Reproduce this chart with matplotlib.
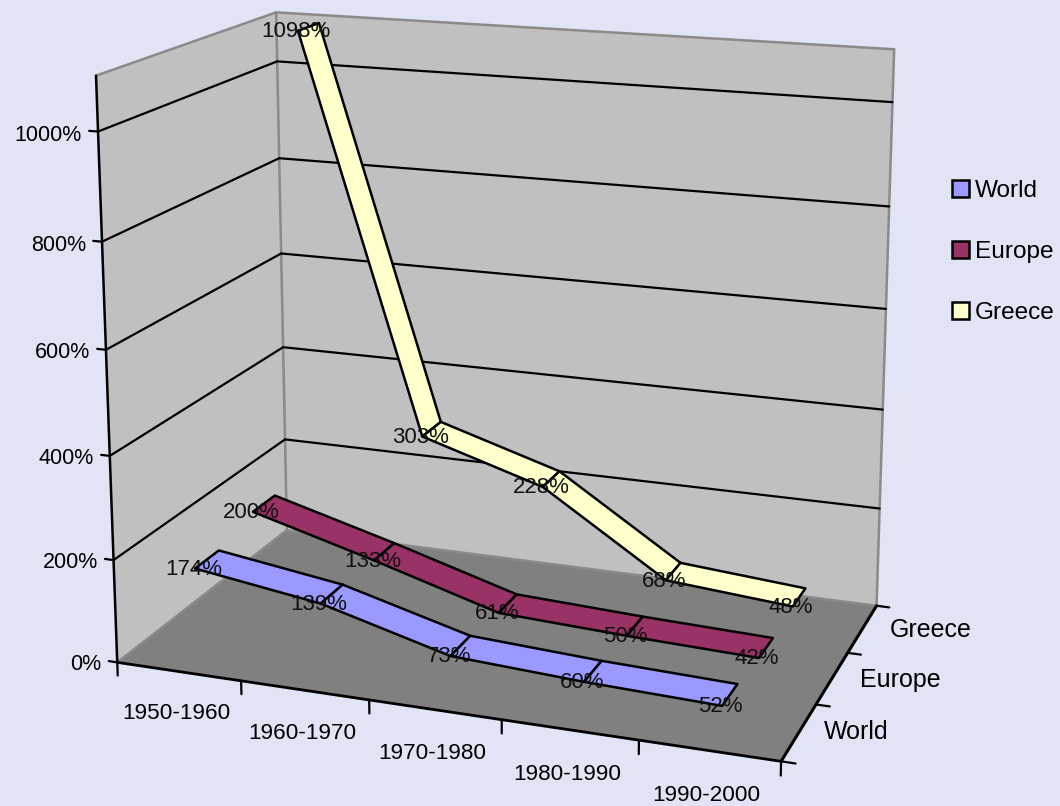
import numpy as np
import matplotlib
matplotlib.use('Agg')
import matplotlib.pyplot as plt
from matplotlib.patches import Patch
from mpl_toolkits.mplot3d import proj3d
from mpl_toolkits.mplot3d.art3d import Poly3DCollection, Line3DCollection

plt.rcParams['font.family'] = ['Liberation Sans', 'DejaVu Sans']

# data
periods = ['1950-1960', '1960-1970', '1970-1980', '1980-1990', '1990-2000']
series = ['World', 'Europe', 'Greece']
world = [174, 139, 73, 60, 52]
europe = [200, 133, 61, 50, 42]
greece = [1098, 303, 228, 68, 48]
colors = ['#9999FF', '#993366', '#FFFFCC']
value_ticks = [0, 200, 400, 600, 800, 1000]
zmax = 1100

W, H = 1060, 806
bg = '#E0E4F4'

# camera: fit a projective matrix from the corners of the chart box
cam_3d = [(0, 0, 0), (5, 0, 0), (5, 3, 0), (0, 3, 0), (0, 0, 1100), (0, 3, 1100), (5, 3, 1100),
          (0, 3, 1000), (5, 3, 1000), (0, 0, 1000), (0, 3, 200), (5, 3, 200), (0, 0, 200)]
cam_px = [(117, 661), (782, 761), (877, 605), (287, 530), (96, 76), (277, 12), (895, 48),
          (277, 61), (891, 103), (98, 132), (285, 440), (879, 510), (113, 561)]
A, b = [], []
for (x, y, z), (u, v) in zip(cam_3d, cam_px):
    A.append([x, y, z, 1, 0, 0, 0, 0, -u*x, -u*y, -u*z])
    A.append([0, 0, 0, 0, x, y, z, 1, -v*x, -v*y, -v*z])
    b += [u, v]
h = np.linalg.lstsq(np.array(A, float), np.array(b, float), rcond=None)[0]
P = np.append(h, 1).reshape(3, 4)

fig = plt.figure(figsize=(W/100, H/100), dpi=100, facecolor=bg)
ax = fig.add_axes([0, 0, 1, 1], projection='3d', computed_zorder=False)
ax.apply_aspect = lambda position=None: None
ax.set_axis_off()
ax.patch.set_visible(False)

# pixel coordinates -> the 2d limits the 3d axes draws in
x0, y0, x1, y1 = ax.viewLim.extents
T = np.array([[(x1-x0)/W, 0, x0], [0, -(y1-y0)/H, y1], [0, 0, 1]])
Q = T @ P
M = np.array([Q[0], Q[1], [0, 0.05, 0, 0], Q[2]])
ax.get_proj = lambda: M


def quad(pts, face, edge='none', lw=0, z=1):
    ax.add_collection3d(Poly3DCollection([pts], facecolors=face, edgecolors=edge, linewidths=lw,
                                         zorder=z, zsort='average'), autolim=False)


def line(a, b, color='black', lw=1.6, z=4.2):
    ax.add_collection3d(Line3DCollection([[a, b]], colors=color, linewidths=lw, zorder=z, capstyle='round'),
                        autolim=False)


def label(x, y, z, s, size, color='black'):
    px, py, _ = proj3d.proj_transform(x, y, z, M)
    ax.text2D(px, py, s, transform=ax.transData, ha='center', va='center', fontsize=size, color=color, zorder=9)


# walls and floor
quad([(0, 0, 0), (0, 3, 0), (5, 3, 0), (5, 0, 0)], '#808080', z=1)
quad([(0, 0, 0), (0, 3, 0), (0, 3, zmax), (0, 0, zmax)], '#C0C0C0', z=1)
quad([(0, 3, 0), (5, 3, 0), (5, 3, zmax), (0, 3, zmax)], '#C0C0C0', z=1)

# wall edges
for a, b in [((0, 0, zmax), (0, 3, zmax)), ((0, 3, zmax), (5, 3, zmax)), ((0, 3, 0), (0, 3, zmax)),
             ((5, 3, 0), (5, 3, zmax)), ((0, 0, 0), (0, 3, 0)), ((0, 3, 0), (5, 3, 0))]:
    line(a, b, color='#8a8a8a', lw=1.8, z=4.1)

# gridlines
for v in value_ticks[1:]:
    line((0, 0, v), (0, 3, v))
    line((0, 3, v), (5, 3, v))

# axes and ticks
line((0, 0, 0), (0, 0, zmax), lw=1.8, z=4.5)
line((0, 0, 0), (5, 0, 0), lw=2, z=4.5)
line((5, 0, 0), (5, 3, 0), lw=2.2, z=4.5)
for v in value_ticks:
    line((-0.07, 0, v), (0, 0, v), lw=1.6, z=4.5)
    px, py, _ = proj3d.proj_transform(-0.13, 0, v-9, M)
    ax.text2D(px, py, '%d%%' % v, transform=ax.transData, ha='right', va='center', fontsize=15.5, zorder=9)
for i in range(6):
    line((i, 0, 0), (i, 0, -26), lw=1.6, z=4.5)
for i in range(4):
    line((5, i, 0), (5.1, i, 0), lw=1.6, z=4.5)
for i, name in enumerate(periods):
    label(i+0.5, -0.05, -78, name, 16.2)
for i, name in enumerate(series):
    label([5.4, 5.5, 5.52][i], i+0.5, 15, name, 18)

# ribbons, back to front
ribbon = 0.4
rows = [greece, europe, world]
for k, vals in enumerate(rows):
    s = 2 - k
    yf, yb = s+0.5-ribbon/2, s+0.5+ribbon/2
    for i in range(len(vals)-1):
        quad([(i+0.5, yf, vals[i]), (i+0.5, yb, vals[i]), (i+1.5, yb, vals[i+1]), (i+1.5, yf, vals[i+1])],
             colors[s], edge='black', lw=1.8, z=5+k)
    for i, v in enumerate(vals):
        label(i+0.49, yf, v-3, '%d%%' % v, 16, color='#111111')

# legend
handles = [Patch(facecolor=c, edgecolor='black', linewidth=1.8) for c in colors]
fig.legend(handles, series, loc='upper left', bbox_to_anchor=(952/W, 1-180/H), frameon=False, fontsize=17.6,
           handlelength=0.68, handleheight=0.68, handletextpad=0.26, labelspacing=1.6,
           borderpad=0, borderaxespad=0)

fig.savefig('out.png', dpi=100, facecolor=bg)
